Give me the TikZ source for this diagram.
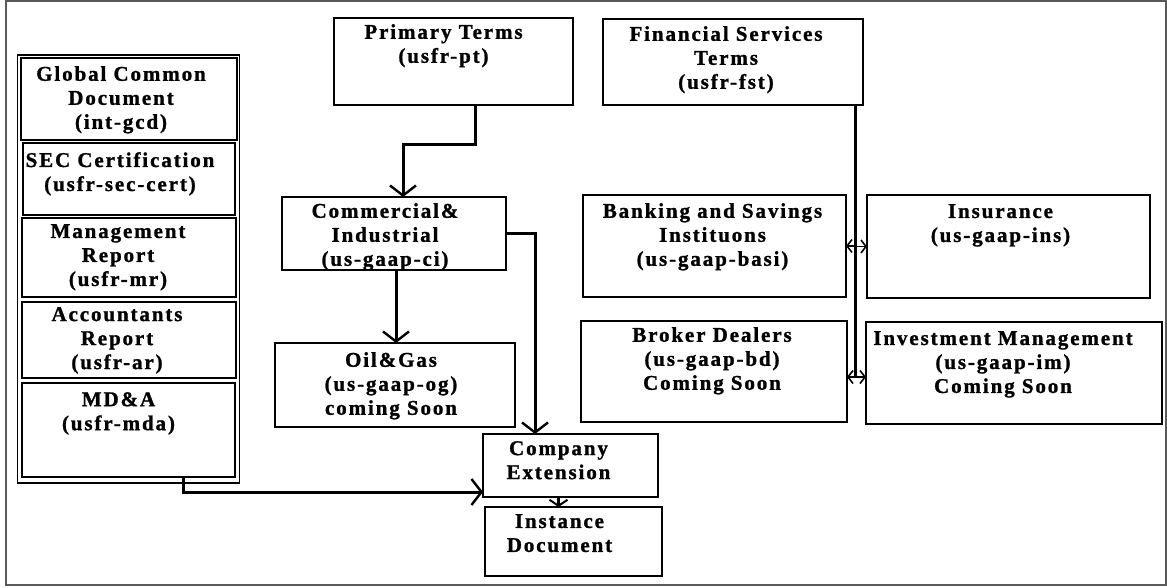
\documentclass[tikz,border=0pt]{standalone}
\usepackage{fontspec}
\newfontfamily\diagfont{Liberation Serif}[LetterSpace=9, BoldFeatures={FakeBold=1.2}]
\usetikzlibrary{arrows.meta,calc}

\tikzset{
  box/.style={draw, line width=1.3pt, inner sep=0pt, outer sep=0pt},
  txt/.style={font={\diagfont\bfseries\fontsize{21}{24}\selectfont},
              align=center, inner sep=0pt, anchor=north},
  conn/.style={line width=3pt, -{Straight Barb[length=10pt,width=26pt,line width=2.4pt]}},
  plain/.style={line width=3pt},
  side/.style={line width=1.8pt, -{Straight Barb[length=5pt,width=13pt,line width=1.6pt]}},
}

\begin{document}
\begin{tikzpicture}[x=1pt, y=-1pt]
  \useasboundingbox (0,0) rectangle (1167,588);
  \draw[gray!70!black, line width=1.2pt] (6,1) rectangle (1166,585);

  % left column of report boxes
  \node[box, minimum width=222pt, minimum height=428pt] (grp) at (128.5,269) {};
  \node[box, minimum width=216pt, minimum height=82pt] (gcd) at (129,99) {};
  \node[box, minimum width=212pt, minimum height=72pt] (sec) at (129,179) {};
  \node[box, minimum width=214pt, minimum height=79pt] (mr)  at (129,257.5) {};
  \node[box, minimum width=214pt, minimum height=76pt] (ar)  at (129,340) {};
  \node[box, minimum width=213pt, minimum height=94pt] (mda) at (128.5,430) {};

  \node[txt] (gcd-t) at ([xshift=-8pt,yshift=-8pt]gcd.north) {Global Common\\Document\\(int-gcd)};
  \node[txt] (sec-t) at ([xshift=-9pt,yshift=-9pt]sec.north) {SEC Certification\\(usfr-sec-cert)};
  \node[txt] (mr-t)  at ([xshift=-11pt,yshift=-6pt]mr.north) {Management\\Report\\(usfr-mr)};
  \node[txt] (ar-t)  at ([xshift=-12pt,yshift=-5pt]ar.north) {Accountants\\Report\\(usfr-ar)};
  \node[txt] (mda-t) at ([xshift=-10pt,yshift=-9pt]mda.north) {MD\&A\\(usfr-mda)};

  % taxonomy boxes
  \node[box, minimum width=239pt, minimum height=87pt]  (pt)  at (453.5,61.5) {};
  \node[box, minimum width=224pt, minimum height=73pt]  (ci)  at (394,233.5) {};
  \node[box, minimum width=240pt, minimum height=84pt]  (og)  at (395,385) {};
  \node[box, minimum width=175pt, minimum height=63pt]  (ce)  at (570.5,465.5) {};
  \node[box, minimum width=177pt, minimum height=69pt]  (id)  at (573.5,541.5) {};
  \node[box, minimum width=260pt, minimum height=86pt]  (fst) at (733,62) {};
  \node[box, minimum width=263pt, minimum height=102pt] (bk)  at (714.5,246) {};
  \node[box, minimum width=283pt, minimum height=103pt] (ins) at (1008.5,246.5) {};
  \node[box, minimum width=266pt, minimum height=101pt] (bd)  at (714,371.5) {};
  \node[box, minimum width=296pt, minimum height=102pt] (im)  at (1014,373) {};

  \node[txt] (pt-t)  at ([xshift=-10pt,yshift=-6pt]pt.north) {Primary Terms\\(usfr-pt)};
  \node[txt] (ci-t)  at ([xshift=-9pt,yshift=-6pt]ci.north) {Commercial\&\\Industrial\\(us-gaap-ci)};
  \node[txt] (og-t)  at ([xshift=-4pt,yshift=-9pt]og.north) {Oil\&Gas\\(us-gaap-og)\\coming Soon};
  \node[txt] (ce-t)  at ([xshift=-12pt,yshift=-7pt]ce.north) {Company\\Extension};
  \node[txt] (id-t)  at ([xshift=-14pt,yshift=-7pt]id.north) {Instance\\Document};
  \node[txt] (fst-t) at ([xshift=-7pt,yshift=-7pt]fst.north) {Financial Services\\Terms\\(usfr-fst)};
  \node[txt] (bk-t)  at ([xshift=-2pt,yshift=-8pt]bk.north) {Banking and Savings\\Instituons\\(us-gaap-basi)};
  \node[txt] (ins-t) at ([xshift=-8pt,yshift=-9pt]ins.north) {Insurance\\(us-gaap-ins)};
  \node[txt] (bd-t)  at ([xshift=-2pt,yshift=-6pt]bd.north) {Broker Dealers\\(us-gaap-bd)\\Coming Soon};
  \node[txt] (im-t)  at ([xshift=-11pt,yshift=-9pt]im.north) {Investment Management\\(us-gaap-im)\\Coming Soon};

  % connectors
  \draw[conn] ([xshift=21.5pt]pt.south) -- ++(0,40) -| ([xshift=9pt]ci.north);
  \draw[conn] ([xshift=2pt]ci.south) -- ([xshift=2pt]ci.south |- og.north);
  \draw[conn] (ci.east) -| ([xshift=-35.5pt]ce.north);
  \draw[conn] ([xshift=54.5pt]mda.south) |- ([yshift=-26.5pt]ce.west);
  \draw[line width=2.4pt, -{Straight Barb[length=6pt,width=18pt,line width=2pt]}]
    ([xshift=-12pt]ce.south) -- ([xshift=-12pt]ce.south |- id.north);

  % financial services branch
  \coordinate (fb) at ([xshift=122pt]fst.south);
  \coordinate (j2) at ([xshift=8pt,yshift=-5.5pt]bd.east);
  \draw[plain] (fb) -- (fb |- j2);
  \draw[side] ([xshift=9pt]bk.east) -- (bk.east);
  \draw[side] ([xshift=-12pt]ins.west) -- (ins.west);
  \draw[side] ([xshift=8pt,yshift=-5.5pt]bd.east) -- ([yshift=-5.5pt]bd.east);
  \draw[side] ([xshift=-11pt,yshift=-4pt]im.west) -- ([yshift=-4pt]im.west);
\end{tikzpicture}
\end{document}
